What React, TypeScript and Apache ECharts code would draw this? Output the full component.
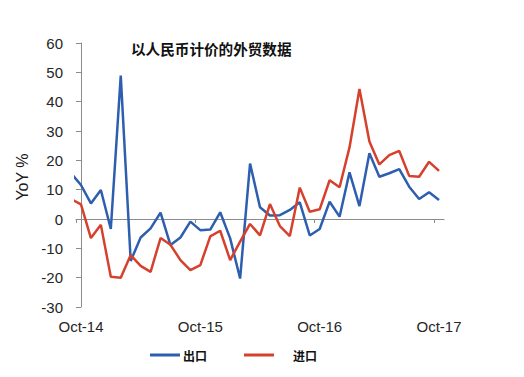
import React, { useEffect, useRef } from "react";
import * as echarts from "echarts";

// Month offsets: -1 = Sep-14 (partly clipped at the axis), 0 = Oct-14 ... 36 = Oct-17
const exportsYoY = [
  15.6, 11.6, 5.3, 9.9, -3.4, 48.9, -14.3, -6.3, -3.2, 2.2, -8.9, -6.3, -0.9, -3.8,
  -3.6, 2.3, -6.6, -20.3, 18.9, 4.0, 1.2, 1.3, 3.1, 5.7, -5.6, -3.4, 5.9, 0.8,
  15.9, 4.4, 22.4, 14.4, 15.6, 17.0, 11.0, 6.8, 9.1, 6.5,
];
const importsYoY = [
  6.8, 5.0, -6.5, -2.0, -19.7, -20.0, -12.3, -16.0, -18.0, -6.5, -8.8, -14.0, -17.4,
  -15.7, -5.9, -4.0, -14.0, -7.7, -1.7, -5.6, 5.1, -2.4, -5.8, 10.7, 2.5, 3.3, 13.2,
  10.8, 24.4, 44.3, 26.4, 18.6, 21.8, 23.2, 14.7, 14.4, 19.5, 16.4,
];
const firstMonthOffset = -1;
const tickLabels = ["Oct-14", "Oct-15", "Oct-16", "Oct-17"];
const labelMonths = [0, 12, 24, 36];
const tickMonths = [-0.5, 11.5, 23.5, 35.5];
const seriesNames = ["出口", "进口"];
const chartTitle = "以人民币计价的外贸数据";

const toPoints = (arr: number[]) => arr.map((v, i) => [i + firstMonthOffset, v]);

export default function App() {
  const ref = useRef<HTMLDivElement>(null);
  useEffect(() => {
    if (!ref.current) return;
    const chart = echarts.init(ref.current, undefined, { renderer: "svg" });
    const numFont = "'Liberation Sans', Arial, sans-serif";
    const cjkFont = "'Noto Sans CJK SC', sans-serif";
    chart.setOption({
      animation: false,
      backgroundColor: "#ffffff",
      title: {
        text: chartTitle,
        left: 131,
        top: 41,
        padding: 0,
        textStyle: { fontFamily: cjkFont, fontSize: 14.6, fontWeight: "bold", color: "#111" },
      },
      legend: {
        left: 150,
        top: 349,
        icon: "rect",
        itemWidth: 30,
        itemHeight: 3,
        itemGap: 37,
        padding: 0,
        textStyle: { fontFamily: cjkFont, fontSize: 12, fontWeight: "bold", color: "#111", padding: [0, 0, 0, -2] },
        data: [
          { name: seriesNames[0] },
          { name: seriesNames[1], textStyle: { padding: [0, 0, 0, 14] } },
        ],
      },
      grid: { left: 76, right: 80, top: 43, bottom: 70, containLabel: false, outerBoundsMode: "none" },
      xAxis: {
        type: "value",
        min: -0.5,
        max: 36.5,
        splitLine: { show: false },
        axisLine: { onZero: true, lineStyle: { color: "#8c8c8c", width: 1 } },
        axisTick: {
          show: true,
          customValues: tickMonths,
          length: 4,
          inside: false,
          lineStyle: { color: "#8c8c8c" },
        },
        axisLabel: {
          customValues: labelMonths,
          margin: 12,
          fontFamily: numFont,
          fontSize: 15,
          color: "#262626",
          formatter: (v: number) => tickLabels[labelMonths.indexOf(Math.round(v))] ?? "",
        },
      },
      yAxis: {
        type: "value",
        min: -30,
        max: 60,
        interval: 10,
        name: "YoY %",
        nameLocation: "middle",
        nameGap: 42,
        nameRotate: 90,
        nameTextStyle: { fontFamily: numFont, fontSize: 16, color: "#1a1a1a", padding: [0, 0, 0, -4] },
        splitLine: { show: false },
        axisLine: { show: true, lineStyle: { color: "#8c8c8c" } },
        axisTick: { show: true, length: 5, lineStyle: { color: "#8c8c8c" } },
        axisLabel: { margin: 13, fontFamily: numFont, fontSize: 15, color: "#262626" },
      },
      series: [
        {
          name: seriesNames[0],
          type: "line",
          data: toPoints(exportsYoY),
          symbol: "none",
          clip: true,
          lineStyle: { color: "#2E5EAE", width: 2.5 },
          itemStyle: { color: "#2E5EAE" },
        },
        {
          name: seriesNames[1],
          type: "line",
          data: toPoints(importsYoY),
          symbol: "none",
          clip: true,
          lineStyle: { color: "#D5412C", width: 2.5 },
          itemStyle: { color: "#D5412C" },
        },
      ],
    });
    return () => chart.dispose();
  }, []);
  return (
    <div
      ref={ref}
      style={{ position: "absolute", left: 0, top: 0, width: 524, height: 377 }}
    />
  );
}
